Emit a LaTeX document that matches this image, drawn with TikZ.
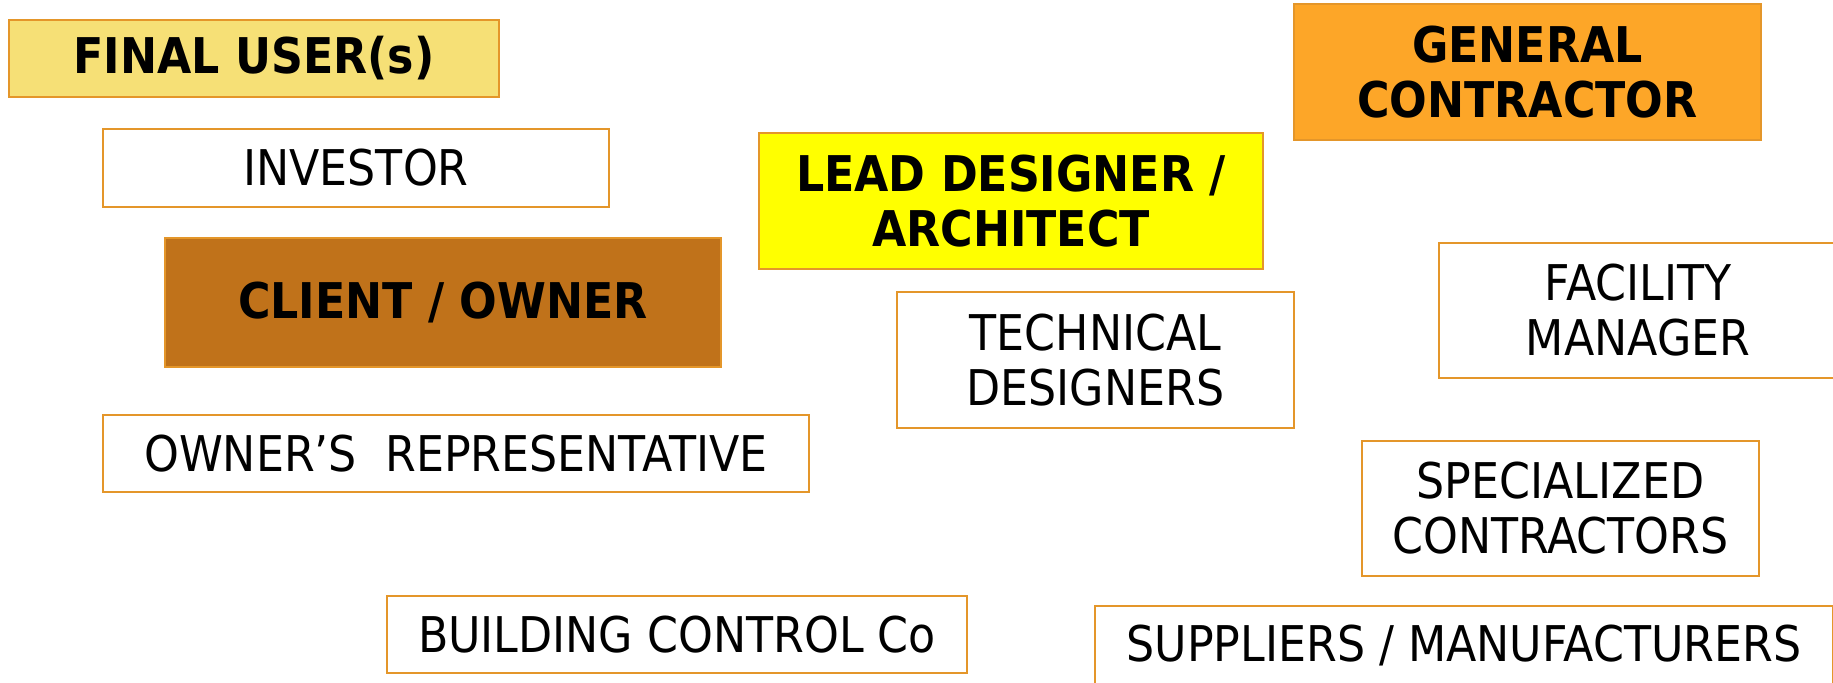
\documentclass[tikz,border=0pt]{standalone}
\usepackage{fontspec}
\setmainfont{DejaVu Sans}[FakeStretch=0.9]
\usepackage{tikz}

\definecolor{roleedge}{RGB}{228,150,42}
\definecolor{usercol}{RGB}{246,224,118}
\definecolor{ownercol}{RGB}{192,114,26}
\definecolor{leadcol}{RGB}{255,255,0}
\definecolor{contrcol}{RGB}{253,166,40}

\tikzset{
  role/.style={draw=roleedge, line width=0.6pt, fill=white, inner sep=0pt,
    align=center, font=\fontsize{14}{15.6}\selectfont},
  keyrole/.style={role, font=\fontsize{14}{15.6}\selectfont\bfseries}
}

\begin{document}
\begin{tikzpicture}[x=0.01cm,y=-0.01cm]
	\useasboundingbox (0,0) rectangle (1833,683);
	\clip (0,0) rectangle (1833,683);
	% client side
	\draw (254, 58.5) node[keyrole,fill=usercol,minimum width=4.90cm,minimum height=0.77cm] (fuser) {FINAL USER(s)};
	\draw (356, 168) node[role,minimum width=5.06cm,minimum height=0.78cm] (investor) {INVESTOR};
	\draw (443, 302.5) node[keyrole,fill=ownercol,minimum width=5.56cm,minimum height=1.29cm] (client) {CLIENT / OWNER};
	\draw (456, 453.5) node[role,minimum width=7.06cm,minimum height=0.77cm] (ownrep) {OWNER’S\ \ REPRESENTATIVE};
	\draw (677, 634.5) node[role,minimum width=5.80cm,minimum height=0.77cm] (bcontrol) {BUILDING CONTROL Co};
	% design side
	\draw (1011, 201) node[keyrole,fill=leadcol,minimum width=5.04cm,minimum height=1.36cm] (lead) {LEAD DESIGNER /\\ARCHITECT};
	\draw (1095.5, 360) node[role,minimum width=3.97cm,minimum height=1.36cm] (techdes) {TECHNICAL\\DESIGNERS};
	% construction side
	\draw (1527.5, 72) node[keyrole,fill=contrcol,minimum width=4.67cm,minimum height=1.36cm] (gencon) {GENERAL\\CONTRACTOR};
	\draw (1638, 310.5) node[role,minimum width=3.98cm,minimum height=1.35cm] (facman) {FACILITY\\MANAGER};
	\draw (1560.5, 508.5) node[role,minimum width=3.97cm,minimum height=1.35cm] (speccon) {SPECIALIZED\\CONTRACTORS};
	\draw (1464, 646) node[role,minimum width=7.38cm,minimum height=0.80cm] (suppl) {SUPPLIERS / MANUFACTURERS};
\end{tikzpicture}
\end{document}
